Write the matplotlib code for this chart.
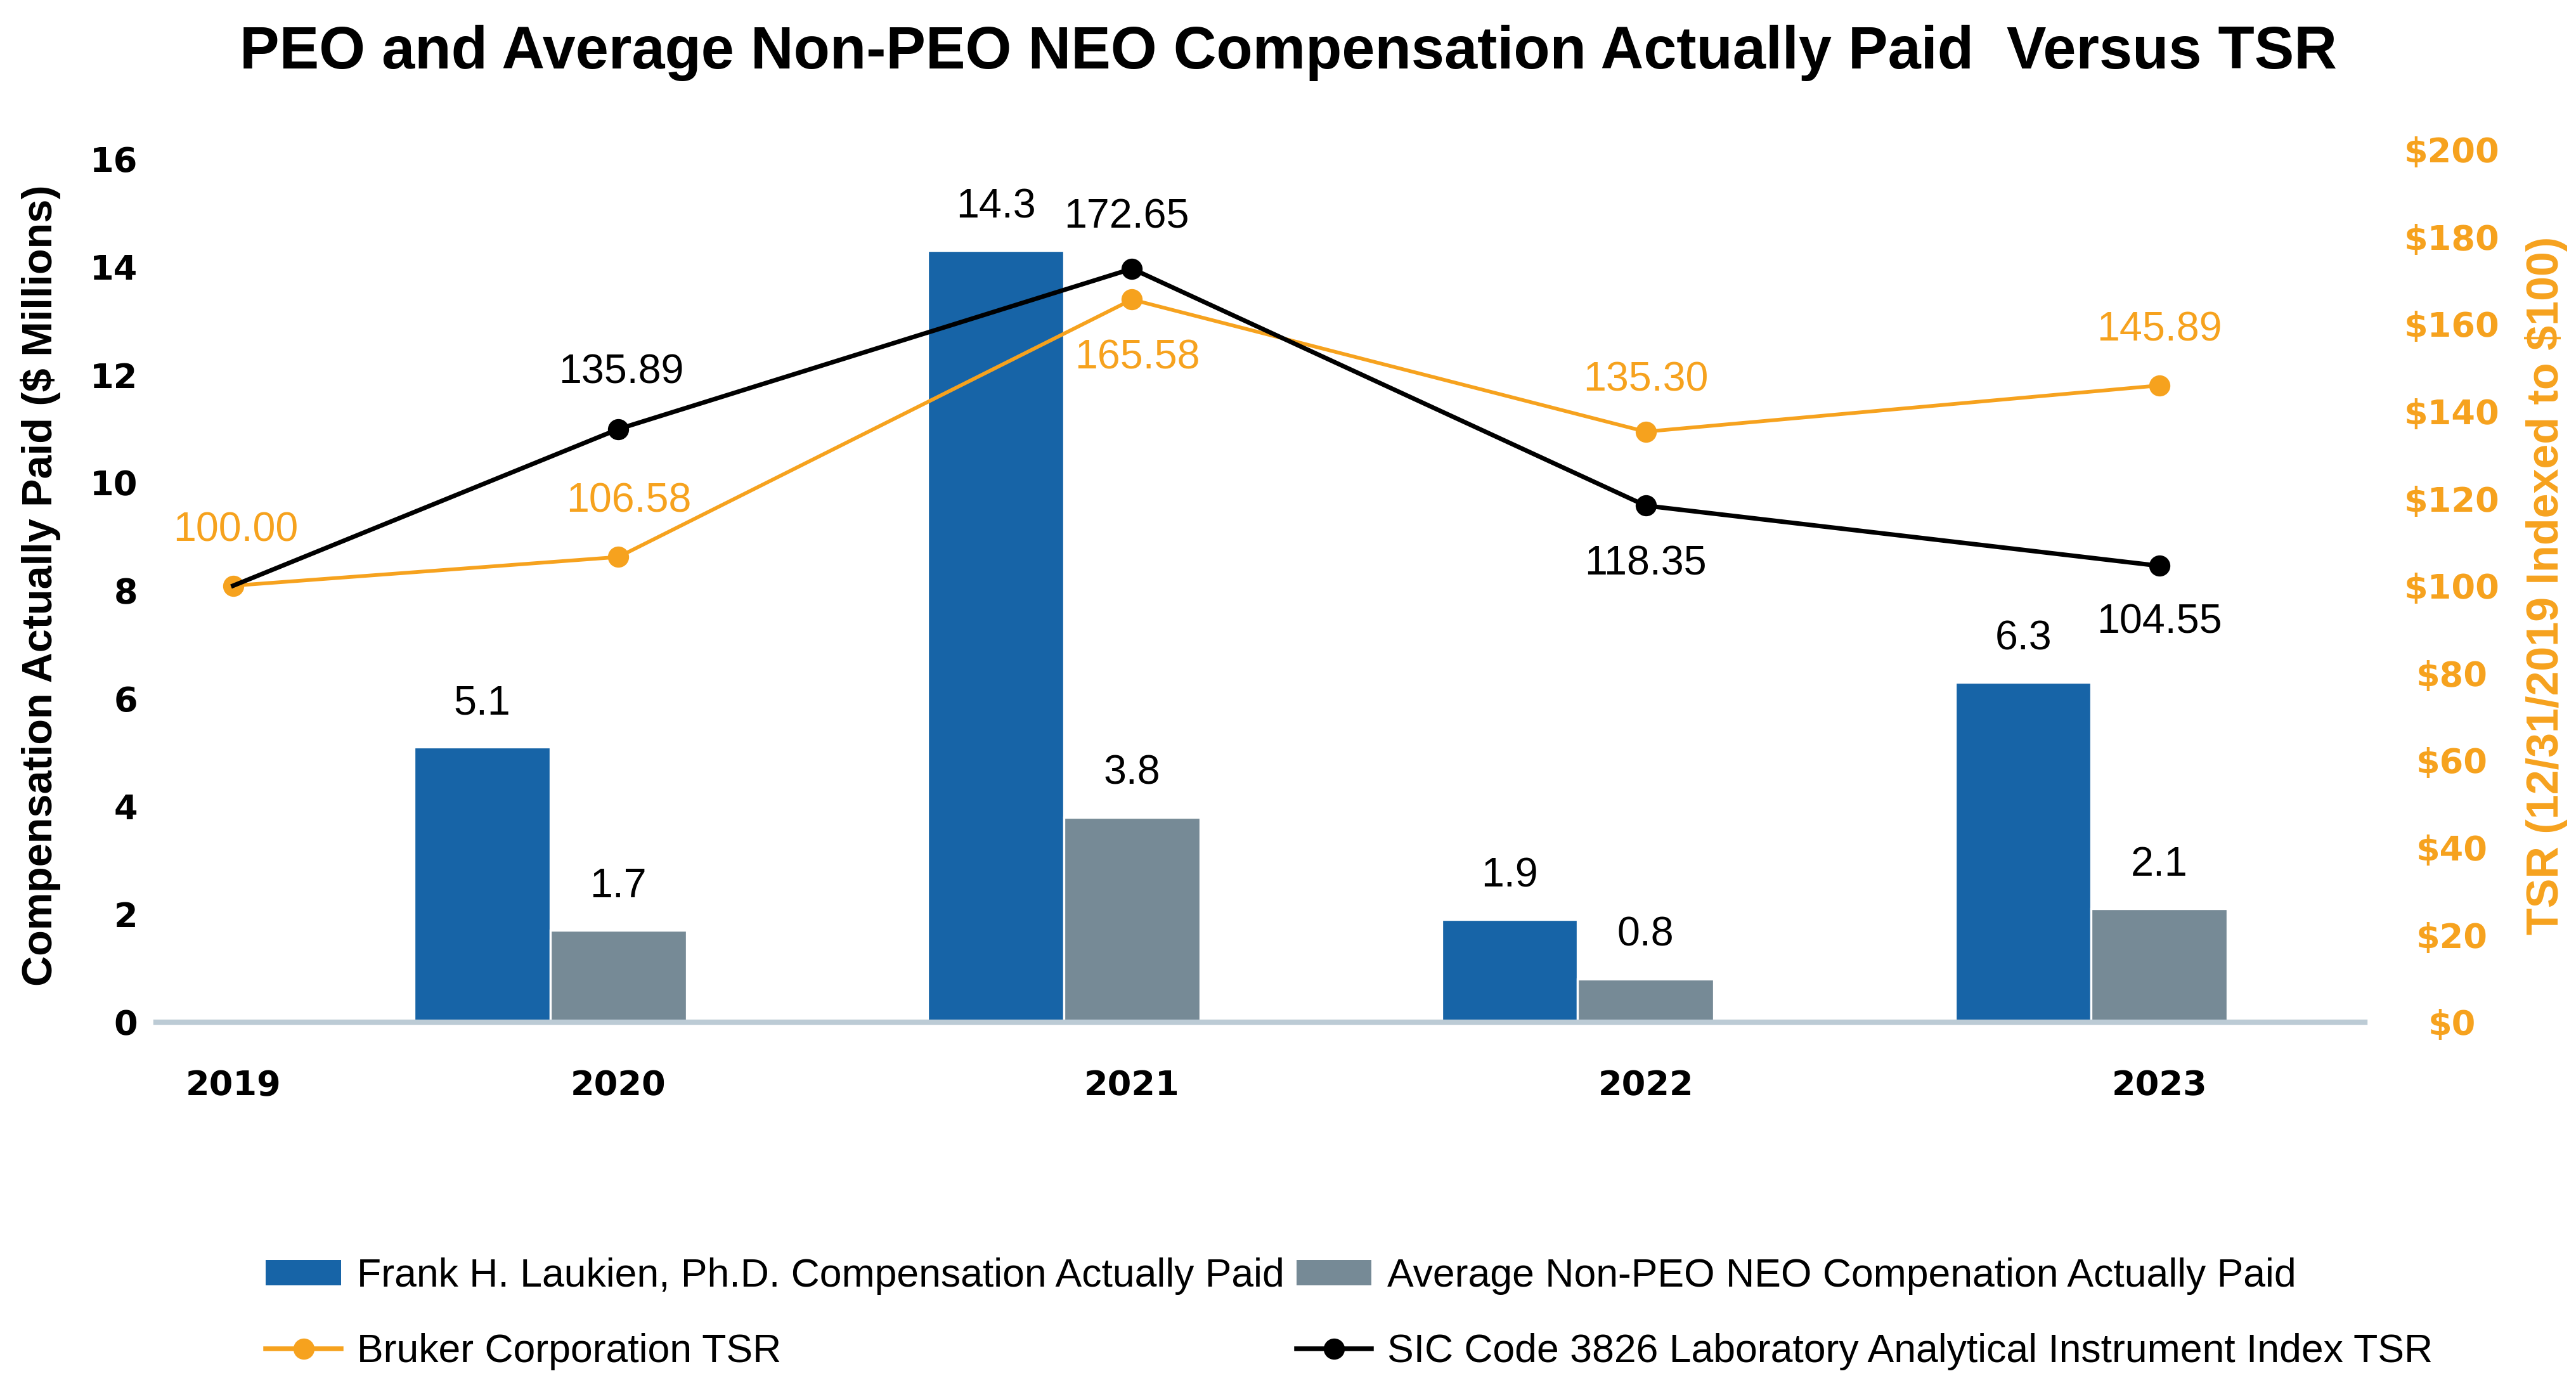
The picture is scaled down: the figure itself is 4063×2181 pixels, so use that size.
import matplotlib
matplotlib.use("Agg")
import matplotlib.pyplot as plt
from matplotlib.lines import Line2D
from matplotlib.patches import Patch
import numpy as np

## data
years = ["2019", "2020", "2021", "2022", "2023"]
bar_years = ["2020", "2021", "2022", "2023"]
peo_cap = [5.1, 14.3, 1.9, 6.3]
neo_cap = [1.7, 3.8, 0.8, 2.1]
bruker_tsr = [100.00, 106.58, 165.58, 135.30, 145.89]
sic_tsr = [100.00, 135.89, 172.65, 118.35, 104.55]
left_ticks = [0, 2, 4, 6, 8, 10, 12, 14, 16]
right_ticks = [0, 20, 40, 60, 80, 100, 120, 140, 160, 180, 200]

## colours
blue = "#1764a7"
grey = "#768a96"
orange = "#f6a21e"
base_col = "#bccbd5"

narrow = ["Liberation Sans", "DejaVu Sans"]
wide = ["DejaVu Sans"]

fig = plt.figure(figsize=(4063 / 300, 2181 / 300), dpi=300)
ax1 = fig.add_axes([0.0606, 0.261, 0.8574, 0.631])
ax2 = ax1.twinx()

# 2019 sits closer to 2020 than the other years
xpos = {"2019": 0.25, "2020": 1, "2021": 2, "2022": 3, "2023": 4}
bx = np.array([xpos[y] for y in bar_years])
lx = np.array([xpos[y] for y in years])
w = 0.265

ax1.bar(bx - w, peo_cap, w, color=blue, edgecolor="white", linewidth=0.8, zorder=2)
ax1.bar(bx, neo_cap, w, color=grey, edgecolor="white", linewidth=0.8, zorder=2)

for x, v in zip(bx - w, peo_cap):
    ax1.annotate(f"{v:.1f}", (x, v), xytext=(0, 16.5), textcoords="offset points",
                 ha="center", va="center", fontsize=15.5, family=narrow)
for x, v in zip(bx, neo_cap):
    ax1.annotate(f"{v:.1f}", (x, v), xytext=(0, 16.5), textcoords="offset points",
                 ha="center", va="center", fontsize=15.5, family=narrow)

ax2.plot(lx, bruker_tsr, color=orange, lw=1.4, marker="o", ms=7, zorder=3)
ax2.plot(lx, sic_tsr, color="black", lw=1.7, marker="o", ms=7, markevery=[1, 2, 3, 4], zorder=4)

bruker_off = [(1, 21), (4, 21), (2, -22), (0, 19.5), (0, 21)]
sic_off = [(0, 0), (1, 21.5), (-2, 19.5), (0, -22), (0, -21.5)]
for x, v, o in zip(lx, bruker_tsr, bruker_off):
    ax2.annotate(f"{v:.2f}", (x, v), xytext=o, textcoords="offset points",
                 ha="center", va="center", fontsize=15.5, color=orange, family=narrow)
for x, v, o in zip(lx[1:], sic_tsr[1:], sic_off[1:]):
    ax2.annotate(f"{v:.2f}", (x, v), xytext=o, textcoords="offset points",
                 ha="center", va="center", fontsize=15.5, color="black", family=narrow)

ax1.set_xlim(0.1, 4.4)
ax1.set_ylim(0, 16.18)
ax2.set_ylim(0, 200)
ax1.set_xticks(lx)
ax1.set_xticklabels(years, fontsize=13, fontweight="bold", family=wide)
ax1.set_yticks(left_ticks)
ax1.set_yticklabels([str(t) for t in left_ticks], fontsize=13, fontweight="bold", family=wide)
ax2.set_yticks(right_ticks)
ax2.set_yticklabels([f"${t}" for t in right_ticks], fontsize=13, fontweight="bold",
                    family=wide, color=orange, ha="center")

ax1.tick_params(axis="both", length=0)
ax2.tick_params(axis="both", length=0)
ax1.tick_params(axis="x", pad=18)
ax1.tick_params(axis="y", pad=7)
ax2.tick_params(axis="y", pad=33)
for a in (ax1, ax2):
    for s in ["top", "left", "right"]:
        a.spines[s].set_visible(False)
ax2.spines["bottom"].set_visible(False)
ax1.spines["bottom"].set_color(base_col)
ax1.spines["bottom"].set_linewidth(2.0)
ax1.spines["bottom"].set_zorder(5)

ax1.set_ylabel("Compensation Actually Paid ($ Millions)", fontsize=16, fontweight="bold",
               family=narrow, labelpad=11)
ax2.set_ylabel("TSR (12/31/2019 Indexed to $100)", fontsize=16.8, fontweight="bold",
               family=narrow, color=orange, labelpad=9.5)

fig.suptitle("PEO and Average Non-PEO NEO Compensation Actually Paid  Versus TSR",
             x=0.5, y=0.982, fontsize=22.5, fontweight="bold", family=narrow)

handles = [
    Patch(facecolor=blue, label="Frank H. Laukien, Ph.D. Compensation Actually Paid"),
    Line2D([], [], color=orange, lw=1.8, marker="o", ms=7, label="Bruker Corporation TSR"),
    Patch(facecolor=grey, label="Average Non-PEO NEO Compenation Actually Paid"),
    Line2D([], [], color="black", lw=1.8, marker="o", ms=7,
           label="SIC Code 3826 Laboratory Analytical Instrument Index TSR"),
]
fig.legend(handles=handles, ncol=2, loc="upper left", bbox_to_anchor=(0.0955, 0.105),
           frameon=False, prop={"family": narrow, "size": 15}, handlelength=1.9,
           handleheight=0.6, handletextpad=0.4, columnspacing=0.3, labelspacing=0.95,
           borderpad=0)

fig.savefig("out.png", dpi=300)
